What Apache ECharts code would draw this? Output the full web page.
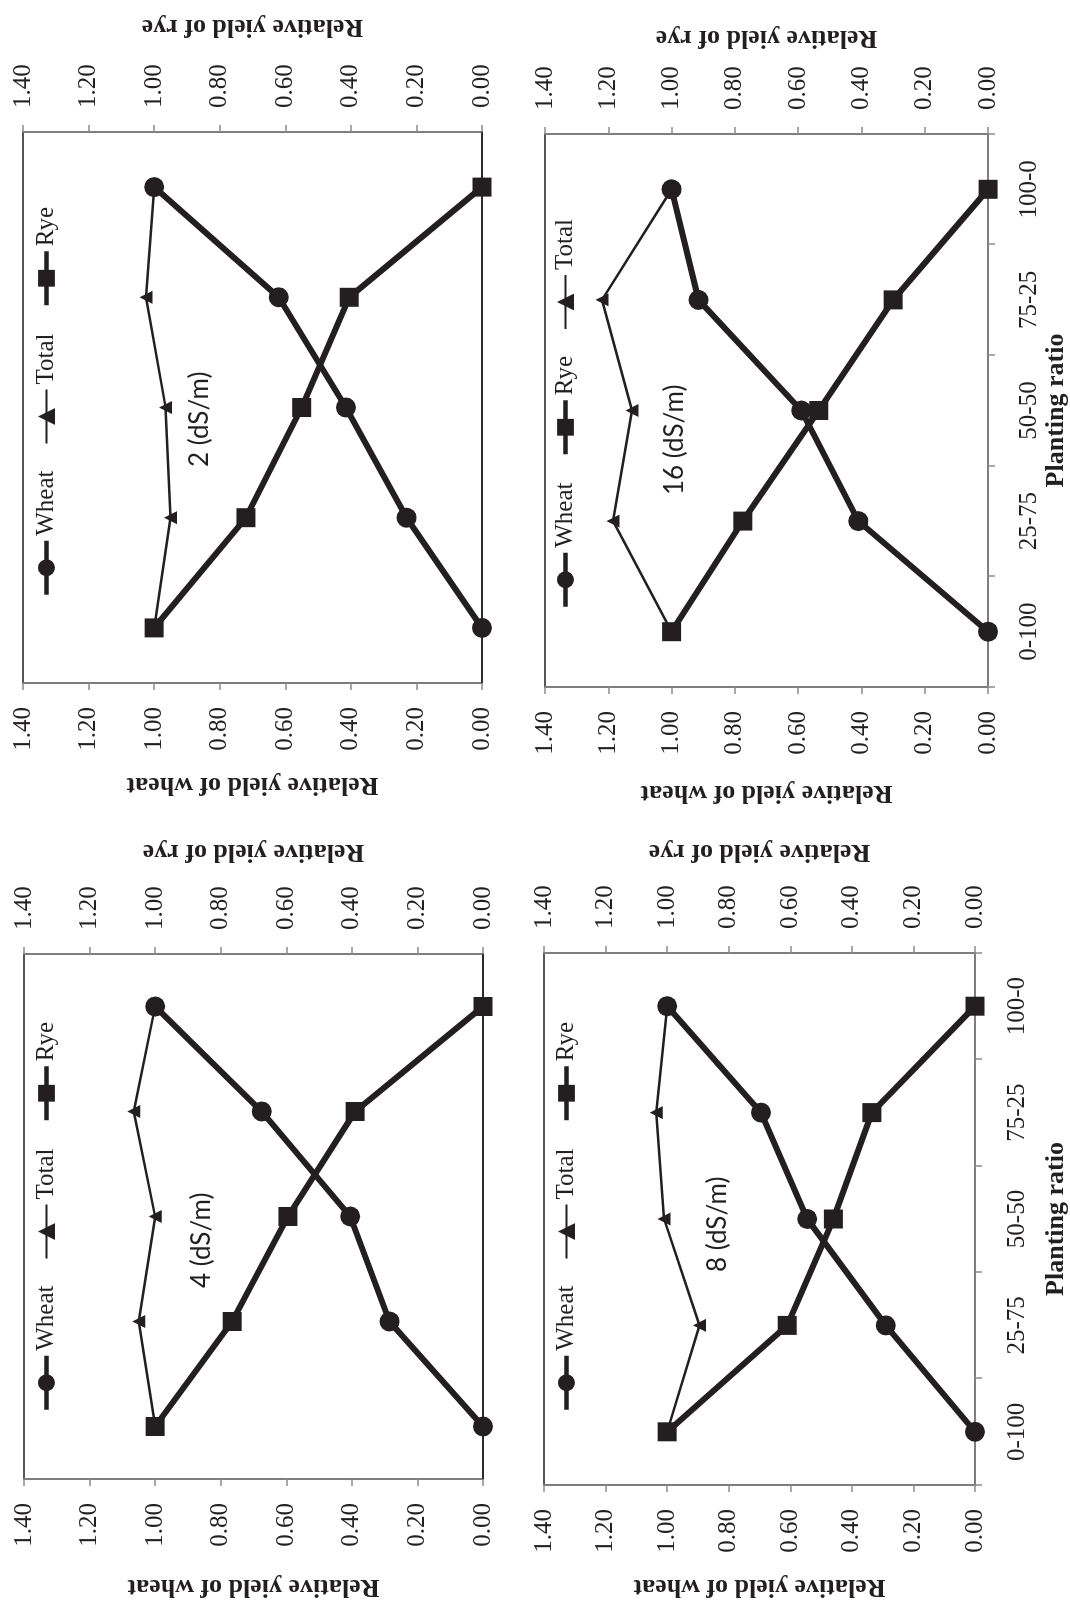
<!DOCTYPE html>
<html>
<head>
<meta charset="utf-8">
<script src="https://cdn.jsdelivr.net/npm/echarts@6/dist/echarts.min.js"></script>
<style>
html,body{margin:0;padding:0;background:#fff;overflow:hidden;width:1070px;height:1601px;}
#wrap{position:absolute;left:0;top:0;width:1601px;height:1070px;transform-origin:0 0;transform:translateY(1601px) rotate(-90deg);background:#fff;}
</style>
</head>
<body>
<div id="wrap"></div>
<script>
// ---------- data ----------
const categories = ['0-100', '25-75', '50-50', '75-25', '100-0'];
const valueMin = 0, valueMax = 1.4, valueStep = 0.2;

const wheat2 = [0.00, 0.23, 0.415, 0.62, 1.00];
const rye2   = [1.00, 0.72, 0.55, 0.405, 0.00];
const total2 = [1.00, 0.95, 0.965, 1.025, 1.00];

const wheat16 = [0.00, 0.41, 0.59, 0.915, 1.00];
const rye16   = [1.00, 0.775, 0.535, 0.30, 0.00];
const total16 = [1.00, 1.185, 1.125, 1.22, 1.00];

const wheat4 = [0.00, 0.285, 0.405, 0.675, 1.00];
const rye4   = [1.00, 0.765, 0.595, 0.39, 0.00];
const total4 = [1.00, 1.05, 1.00, 1.065, 1.00];

const wheat8 = [0.00, 0.29, 0.545, 0.695, 1.00];
const rye8   = [1.00, 0.61, 0.46, 0.335, 0.00];
const total8 = [1.00, 0.895, 1.01, 1.035, 1.00];

// ---------- layout (original, unrotated orientation) ----------
const INK = '#231f20';
const AXIS = '#8c8c8c';
const SERIF = '"Liberation Serif","Times New Roman",serif';
const SANS = 'Lato,"Noto Sans",sans-serif';

const panels = [
  { label: '2 (dS/m)', wheat: wheat2, rye: rye2, total: total2,
    grid: { left: 918, top: 23, width: 551, height: 459 },
    bottomRow: false, legendOrder: ['Wheat', 'Total', 'Rye'], legendPos: [1004, 34],
    labelPos: [1134, 187], wheatGap: 89, ryeGap: 92, catMargin: 29, catNameGap: 47 },
  { label: '16 (dS/m)', wheat: wheat16, rye: rye16, total: total16,
    grid: { left: 914, top: 545, width: 553, height: 453 },
    bottomRow: true, legendOrder: ['Wheat', 'Rye', 'Total'], legendPos: [992, 553],
    labelPos: [1106, 662], wheatGap: 93, ryeGap: 83, catMargin: 29, catNameGap: 47 },
  { label: '4 (dS/m)', wheat: wheat4, rye: rye4, total: total4,
    grid: { left: 121, top: 24, width: 526, height: 459 },
    bottomRow: false, legendOrder: ['Wheat', 'Total', 'Rye'], legendPos: [189, 34],
    labelPos: [313, 189], wheatGap: 95, ryeGap: 89, catMargin: 29, catNameGap: 47 },
  { label: '8 (dS/m)', wheat: wheat8, rye: rye8, total: total8,
    grid: { left: 114, top: 544, width: 534, height: 433 },
    bottomRow: true, legendOrder: ['Wheat', 'Total', 'Rye'], legendPos: [189, 554],
    labelPos: [329, 705], wheatGap: 89, ryeGap: 88, catMargin: 30, catNameGap: 68 }
];

const grid = [], xAxis = [], yAxis = [], series = [], legend = [], title = [];

function valueAxis(i, pos, name, gap) {
  return {
    type: 'value', gridIndex: i, position: pos,
    min: valueMin, max: valueMax, interval: valueStep,
    axisLine: { show: true, lineStyle: { color: AXIS, width: 1.5 } },
    axisTick: { show: true, length: 7, lineStyle: { color: AXIS, width: 1.5 } },
    splitLine: { show: false },
    axisLabel: { formatter: v => v.toFixed(2), margin: 24, fontFamily: SERIF, fontSize: 25, color: INK },
    name: name, nameLocation: 'middle', nameRotate: 90, nameGap: gap,
    nameTextStyle: { fontFamily: SERIF, fontSize: 26, fontWeight: 'bold', color: INK }
  };
}

const legendLineWidth = { Wheat: 4.5, Rye: 4.5, Total: 2 };

panels.forEach((p, i) => {
  grid.push(Object.assign({ show: true, borderColor: INK, borderWidth: 1.5, backgroundColor: 'transparent' }, p.grid));
  xAxis.push({
    type: 'category', gridIndex: i, data: categories, boundaryGap: true,
    axisLine: { show: true, lineStyle: { color: p.bottomRow ? AXIS : INK, width: 1.5 } },
    axisTick: { show: p.bottomRow, length: 7, lineStyle: { color: AXIS, width: 1.5 } },
    axisLabel: { show: p.bottomRow, margin: p.catMargin, fontFamily: SERIF, fontSize: 25, color: INK },
    name: p.bottomRow ? 'Planting ratio' : '', nameLocation: 'middle', nameGap: p.catNameGap,
    nameTextStyle: { fontFamily: SERIF, fontSize: 26, fontWeight: 'bold', color: INK }
  });
  yAxis.push(valueAxis(i, 'left', 'Relative yield of wheat', p.wheatGap));
  yAxis.push(valueAxis(i, 'right', 'Relative yield of rye', p.ryeGap));

  const defs = {
    Wheat: { data: p.wheat, yAxisIndex: 2 * i, symbol: 'circle', symbolSize: 20, width: 6 },
    Rye:   { data: p.rye, yAxisIndex: 2 * i + 1, symbol: 'rect', symbolSize: 19, width: 6 },
    Total: { data: p.total, yAxisIndex: 2 * i, symbol: 'triangle', symbolSize: 13, width: 2.5 }
  };
  p.legendOrder.forEach(n => {
    const d = defs[n];
    series.push({
      name: n, type: 'line', xAxisIndex: i, yAxisIndex: d.yAxisIndex, data: d.data,
      symbol: d.symbol, symbolSize: d.symbolSize, showSymbol: true,
      lineStyle: { color: INK, width: d.width },
      itemStyle: { color: INK, borderWidth: 0 },
      emphasis: { disabled: true }
    });
  });

  legend.push({
    data: p.legendOrder.map(n => ({ name: n, lineStyle: { width: legendLineWidth[n], color: INK } })),
    left: p.legendPos[0], top: p.legendPos[1], padding: 0,
    orient: 'horizontal', itemWidth: 54, itemHeight: 21, itemGap: 26, selectedMode: false,
    textStyle: { fontFamily: SERIF, fontSize: 25, color: INK }
  });

  title.push({
    text: p.label, left: p.labelPos[0], top: p.labelPos[1], padding: 0,
    textStyle: { fontFamily: SANS, fontSize: 26, fontWeight: 'normal', color: INK }
  });
});

const chart = echarts.init(document.getElementById('wrap'));
chart.setOption({
  animation: false,
  backgroundColor: '#fff',
  title: title,
  legend: legend,
  grid: grid,
  xAxis: xAxis,
  yAxis: yAxis,
  series: series
});
</script>
</body>
</html>
